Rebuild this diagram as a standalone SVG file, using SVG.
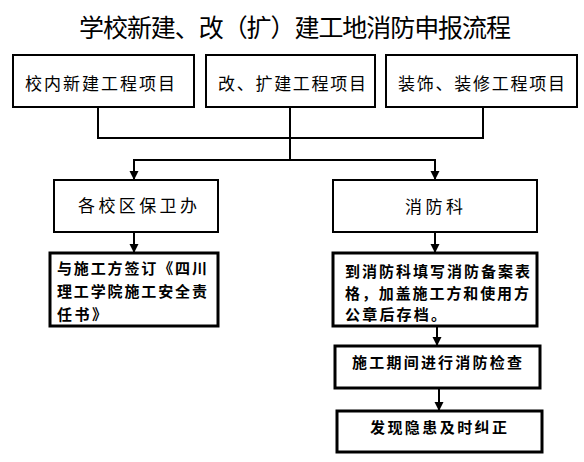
<svg xmlns="http://www.w3.org/2000/svg" width="584" height="462" viewBox="0 0 584 462">
<style>
text{font-family:"Noto Sans CJK SC","Noto Sans",sans-serif;fill:#000}
.t{font-size:25px}
.n{font-size:17px}
.b{font-size:15px;font-weight:700}
.box{fill:#fff;stroke:#000;stroke-width:2}
.bx{fill:#fff;stroke:#000;stroke-width:3}
.c{fill:none;stroke:#000;stroke-width:2}
</style>
<defs>
<marker id="ah" markerUnits="userSpaceOnUse" markerWidth="10" markerHeight="10" refX="9" refY="5" orient="auto">
<path d="M0,0.5 L9,5 L0,9.5 z" fill="#000"/>
</marker>
</defs>
<rect width="584" height="462" fill="#fff"/>
<text class="t" x="79" y="37" textLength="432" lengthAdjust="spacing">学校新建、改（扩）建工地消防申报流程</text>
<g id="connectors">
<path class="c" d="M98,107 V138 M290,107 V160 M483,107 V138 M97,138 H484"/>
<path class="c" d="M290,160 H134 V180" marker-end="url(#ah)"/>
<path class="c" d="M290,160 H435 V180" marker-end="url(#ah)"/>
<path class="c" d="M134,232 V253" marker-end="url(#ah)"/>
<path class="c" d="M435,232 V253" marker-end="url(#ah)"/>
<path class="c" d="M437,326 V346" marker-end="url(#ah)"/>
<path class="c" d="M439,388 V411" marker-end="url(#ah)"/>
</g>
<g id="n1"><rect class="box" x="13" y="55" width="181" height="52"/><text class="n" x="25" y="90" textLength="150" lengthAdjust="spacing">校内新建工程项目</text></g>
<g id="n2"><rect class="box" x="206" y="55" width="169" height="52"/><text class="n" x="218" y="90" textLength="148" lengthAdjust="spacing">改、扩建工程项目</text></g>
<g id="n3"><rect class="box" x="386" y="55" width="191" height="52"/><text class="n" x="398" y="90" textLength="167" lengthAdjust="spacing">装饰、装修工程项目</text></g>
<g id="n4"><rect class="box" x="54" y="180" width="164" height="52"/><text class="n" x="78" y="212" textLength="119" lengthAdjust="spacing">各校区保卫办</text></g>
<g id="n5"><rect class="box" x="333" y="180" width="204" height="52"/><text class="n" x="405" y="213" textLength="58" lengthAdjust="spacing">消防科</text></g>
<g id="n6"><rect class="bx" x="50" y="253" width="168" height="73"/>
<text class="b" x="57" y="274" textLength="150" lengthAdjust="spacing">与施工方签订《四川</text>
<text class="b" x="57" y="297" textLength="150" lengthAdjust="spacing">理工学院施工安全责</text>
<text class="b" x="57" y="320" textLength="50" lengthAdjust="spacing">任书》</text></g>
<g id="n7"><rect class="bx" x="333" y="253" width="204" height="73"/>
<text class="b" x="345" y="277" textLength="185" lengthAdjust="spacing">到消防科填写消防备案表</text>
<text class="b" x="345" y="298.5" textLength="184" lengthAdjust="spacing">格，加盖施工方和使用方</text>
<text class="b" x="345" y="320" textLength="101" lengthAdjust="spacing">公章后存档。</text></g>
<g id="n8"><rect class="bx" x="335" y="346" width="205" height="42"/><text class="b" x="352" y="368" textLength="170" lengthAdjust="spacing">施工期间进行消防检查</text></g>
<g id="n9"><rect class="bx" x="337" y="411" width="205" height="41"/><text class="b" x="370" y="433" textLength="137" lengthAdjust="spacing">发现隐患及时纠正</text></g>
</svg>
